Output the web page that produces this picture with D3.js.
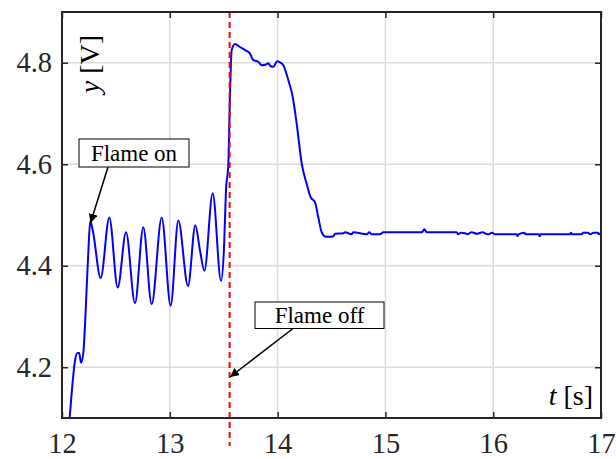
<!DOCTYPE html>
<html>
<head>
<meta charset="utf-8">
<script src="https://d3js.org/d3.v7.min.js"></script>
<style>
  body { margin: 0; background: #fff; }
  svg text { font-family: 'Liberation Serif'; }
</style>
</head>
<body>
<div id="chart"></div>
<script>
var timeVals = [
  12.065, 12.09, 12.12, 12.145, 12.16, 12.176, 12.198, 12.215, 12.229, 12.245,
  12.262, 12.285, 12.359, 12.439, 12.517, 12.594, 12.677, 12.754, 12.832, 12.925,
  13.008, 13.079, 13.169, 13.237, 13.28, 13.321, 13.398, 13.475, 13.503, 13.521,
  13.543, 13.558, 13.574, 13.605, 13.651, 13.698, 13.744, 13.775, 13.821, 13.852,
  13.885, 13.914, 13.935, 13.96, 13.997, 14.02, 14.053, 14.099, 14.14, 14.177,
  14.224, 14.27, 14.307, 14.347, 14.378, 14.409, 14.449, 14.486, 14.517, 14.533,
  14.61, 14.625, 14.687, 14.7, 14.827, 14.85, 14.873, 14.95, 14.98, 15.34,
  15.361, 15.383, 15.661, 15.675, 15.7, 15.74, 15.76, 15.8, 15.85, 15.9,
  15.95, 15.99, 16.017, 16.218, 16.225, 16.235, 16.289, 16.3, 16.425, 16.43,
  16.44, 16.713, 16.72, 16.73, 16.821, 16.835, 16.88, 16.9, 16.93, 16.972,
  16.98, 17.0
];
var voltVals = [
  4.085, 4.15, 4.212, 4.228, 4.228, 4.209, 4.229, 4.29, 4.357, 4.43,
  4.488, 4.47, 4.376, 4.495, 4.357, 4.466, 4.326, 4.476, 4.324, 4.495,
  4.321, 4.489, 4.36, 4.48, 4.43, 4.39, 4.543, 4.37, 4.436, 4.548,
  4.601, 4.733, 4.825, 4.837, 4.831, 4.825, 4.818, 4.805, 4.802, 4.795,
  4.796, 4.799, 4.793, 4.792, 4.803, 4.801, 4.795, 4.766, 4.733, 4.68,
  4.601, 4.561, 4.535, 4.525, 4.495, 4.466, 4.457, 4.457, 4.458, 4.463,
  4.464, 4.466, 4.462, 4.466, 4.462, 4.466, 4.462, 4.462, 4.466, 4.466,
  4.472, 4.466, 4.466, 4.462, 4.465, 4.464, 4.462, 4.466, 4.463, 4.466,
  4.462, 4.465, 4.462, 4.462, 4.458, 4.462, 4.465, 4.462, 4.462, 4.458,
  4.462, 4.462, 4.465, 4.462, 4.462, 4.465, 4.465, 4.462, 4.465, 4.465,
  4.462, 4.465
];

var xTicks = [12, 13, 14, 15, 16, 17];
var yTicks = [4.2, 4.4, 4.6, 4.8];
var flameOffTime = 13.555;

// svg area
var svgWidth = 616;
var svgHeight = 459;

var margin = { top: 12, right: 15, bottom: 41, left: 62 };
var width = svgWidth - margin.left - margin.right;
var height = svgHeight - margin.top - margin.bottom;

var svg = d3.select("#chart")
    .append("svg")
    .attr("width", svgWidth)
    .attr("height", svgHeight);

var chartGroup = svg.append("g")
    .attr("transform", `translate(${margin.left}, ${margin.top})`);

// scales
var xScale = d3.scaleLinear().domain([12, 17]).range([0, width]);
var yScale = d3.scaleLinear().domain([4.1, 4.9]).range([height, 0]);

// grid
chartGroup.append("g")
    .selectAll("line")
    .data(xTicks)
    .enter()
    .append("line")
    .attr("x1", d => xScale(d)).attr("x2", d => xScale(d))
    .attr("y1", 0).attr("y2", height)
    .attr("stroke", "#dcdcdc")
    .attr("stroke-width", 1.5);

chartGroup.append("g")
    .selectAll("line")
    .data(yTicks)
    .enter()
    .append("line")
    .attr("x1", 0).attr("x2", width)
    .attr("y1", d => yScale(d)).attr("y2", d => yScale(d))
    .attr("stroke", "#dcdcdc")
    .attr("stroke-width", 1.5);

// axes (ticks pointing in, on all four sides)
var axisColor = "#262626";

function styleAxis(g) {
    g.attr("font-family", "Liberation Serif").attr("font-size", 28.5);
    g.select(".domain").remove();
    g.selectAll(".tick line").attr("stroke", axisColor).attr("stroke-width", 1.5);
    g.selectAll(".tick text").attr("fill", axisColor);
}

chartGroup.append("g")
    .attr("transform", `translate(0, ${height})`)
    .call(d3.axisBottom(xScale).tickValues(xTicks).tickFormat(d3.format("d"))
        .tickSizeInner(-6).tickPadding(15))
    .call(styleAxis);

chartGroup.append("g")
    .call(d3.axisLeft(yScale).tickValues(yTicks).tickFormat(d3.format(".1f"))
        .tickSizeInner(-6).tickPadding(10))
    .call(styleAxis);

chartGroup.append("g")
    .call(d3.axisTop(xScale).tickValues(xTicks).tickFormat("").tickSizeInner(-6))
    .call(styleAxis);

chartGroup.append("g")
    .attr("transform", `translate(${width}, 0)`)
    .call(d3.axisRight(yScale).tickValues(yTicks).tickFormat("").tickSizeInner(-6))
    .call(styleAxis);

// clip for the signal
chartGroup.append("clipPath")
    .attr("id", "plotClip")
    .append("rect")
    .attr("width", width)
    .attr("height", height);

var lineData = timeVals.map((t, i) => ({ t: t, v: voltVals[i] }));

var line = d3.line()
    .x(d => xScale(d.t))
    .y(d => yScale(d.v))
    .curve(d3.curveMonotoneX);

chartGroup.append("path")
    .datum(lineData)
    .attr("clip-path", "url(#plotClip)")
    .attr("fill", "none")
    .attr("stroke", "#0000ff")
    .attr("stroke-width", 2)
    .attr("d", line);

// flame-off marker (runs down past the axis)
chartGroup.append("line")
    .attr("x1", xScale(flameOffTime)).attr("x2", xScale(flameOffTime))
    .attr("y1", 0).attr("y2", height + 28)
    .attr("stroke", "#ff0000")
    .attr("stroke-width", 2)
    .attr("stroke-dasharray", "6,4");

// frame
chartGroup.append("rect")
    .attr("width", width)
    .attr("height", height)
    .attr("fill", "none")
    .attr("stroke", axisColor)
    .attr("stroke-width", 2);

// axis labels
var yLabel = chartGroup.append("text")
    .attr("transform", `translate(${99 - margin.left}, ${64 - margin.top}) rotate(-90)`)
    .attr("text-anchor", "middle")
    .style("font-size", "28px")
    .attr("fill", "#000");
yLabel.append("tspan").style("font-style", "italic").text("y");
yLabel.append("tspan").text(" [V]");

var xLabel = chartGroup.append("text")
    .attr("x", width - 8)
    .attr("y", 405 - margin.top)
    .attr("text-anchor", "end")
    .style("font-size", "28px")
    .attr("fill", "#000");
xLabel.append("tspan").style("font-style", "italic").text("t");
xLabel.append("tspan").text(" [s]");

// arrow head
svg.append("defs").append("marker")
    .attr("id", "arrowHead")
    .attr("viewBox", "0 0 10 10")
    .attr("refX", 10).attr("refY", 5)
    .attr("markerWidth", 9).attr("markerHeight", 9)
    .attr("markerUnits", "userSpaceOnUse")
    .attr("orient", "auto")
    .append("path")
    .attr("d", "M0,0 L10,5 L0,10 z")
    .attr("fill", "#000");

// annotations
var notes = [
    { text: "Flame on", box: [79, 139, 110, 28], from: [108, 167], to: [90.5, 223] },
    { text: "Flame off", box: [255, 302, 129, 26.5], from: [293, 328.5], to: [230, 377] }
];

notes.forEach(n => {
    svg.append("line")
        .attr("x1", n.from[0]).attr("y1", n.from[1])
        .attr("x2", n.to[0]).attr("y2", n.to[1])
        .attr("stroke", "#000")
        .attr("stroke-width", 1.5)
        .attr("marker-end", "url(#arrowHead)");
    svg.append("rect")
        .attr("x", n.box[0]).attr("y", n.box[1])
        .attr("width", n.box[2]).attr("height", n.box[3])
        .attr("fill", "#fff")
        .attr("stroke", "#000")
        .attr("stroke-width", 1);
    svg.append("text")
        .attr("x", n.box[0] + n.box[2] / 2)
        .attr("y", n.box[1] + n.box[3] / 2 + 8)
        .attr("text-anchor", "middle")
        .style("font-size", "23px")
        .attr("fill", "#000")
        .text(n.text);
});
</script>
</body>
</html>
